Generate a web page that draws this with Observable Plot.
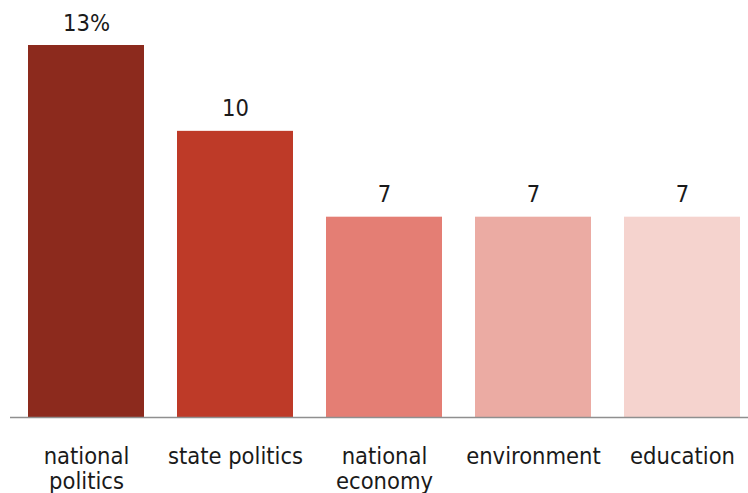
<!DOCTYPE html>
<html>
<head>
<meta charset="utf-8">
<script src="https://cdn.jsdelivr.net/npm/d3@7"></script>
<script src="https://cdn.jsdelivr.net/npm/@observablehq/plot@0.6"></script>
<style>
  html, body { margin: 0; padding: 0; background: #fff; }
  #chart svg { display: block; }
</style>
</head>
<body>
<div id="chart"></div>
<script>
const categories = ["national politics", "state politics", "national economy", "environment", "education"];
const values = [13, 10, 7, 7, 7];
const valueLabels = ["13%", "10", "7", "7", "7"];
const tickLabels = ["national\npolitics", "state politics", "national\neconomy", "environment", "education"];
const colors = ["#8c2a1d", "#be3a28", "#e47e74", "#ebaba3", "#f5d3ce"];

const data = categories.map((c, i) => ({category: c, value: values[i], label: valueLabels[i], color: colors[i]}));
const tickMap = new Map(categories.map((c, i) => [c, tickLabels[i]]));

const FONT = "'DejaVu Sans Condensed', 'DejaVu Sans', Verdana, sans-serif";

const chart = Plot.plot({
  width: 748,
  height: 493,
  marginTop: 45,
  marginBottom: 76,
  marginLeft: 28,
  marginRight: 4,
  style: {fontFamily: FONT, fontSize: "23.5px", color: "#1a1a1a", background: "#fff"},
  x: {domain: categories, paddingInner: 0.222, paddingOuter: 0, align: 0},
  y: {domain: [0, 13], axis: null},
  marks: [
    Plot.barY(data, {x: "category", y: "value", fill: "color"}),
    Plot.ruleY([0], {stroke: "#8f8f8f", strokeWidth: 1.5, insetLeft: -18, insetRight: -4}),
    Plot.text(data, {x: "category", y: "value", text: "label", dy: -15, lineAnchor: "bottom", fill: "#1a1a1a", fontSize: 23.5}),
    Plot.axisX({tickSize: 0, tickPadding: 29, tickFormat: d => tickMap.get(d), lineHeight: 1.07, fontSize: 23.5, fill: "#1a1a1a", label: null})
  ]
});
document.getElementById("chart").appendChild(chart);
</script>
</body>
</html>
